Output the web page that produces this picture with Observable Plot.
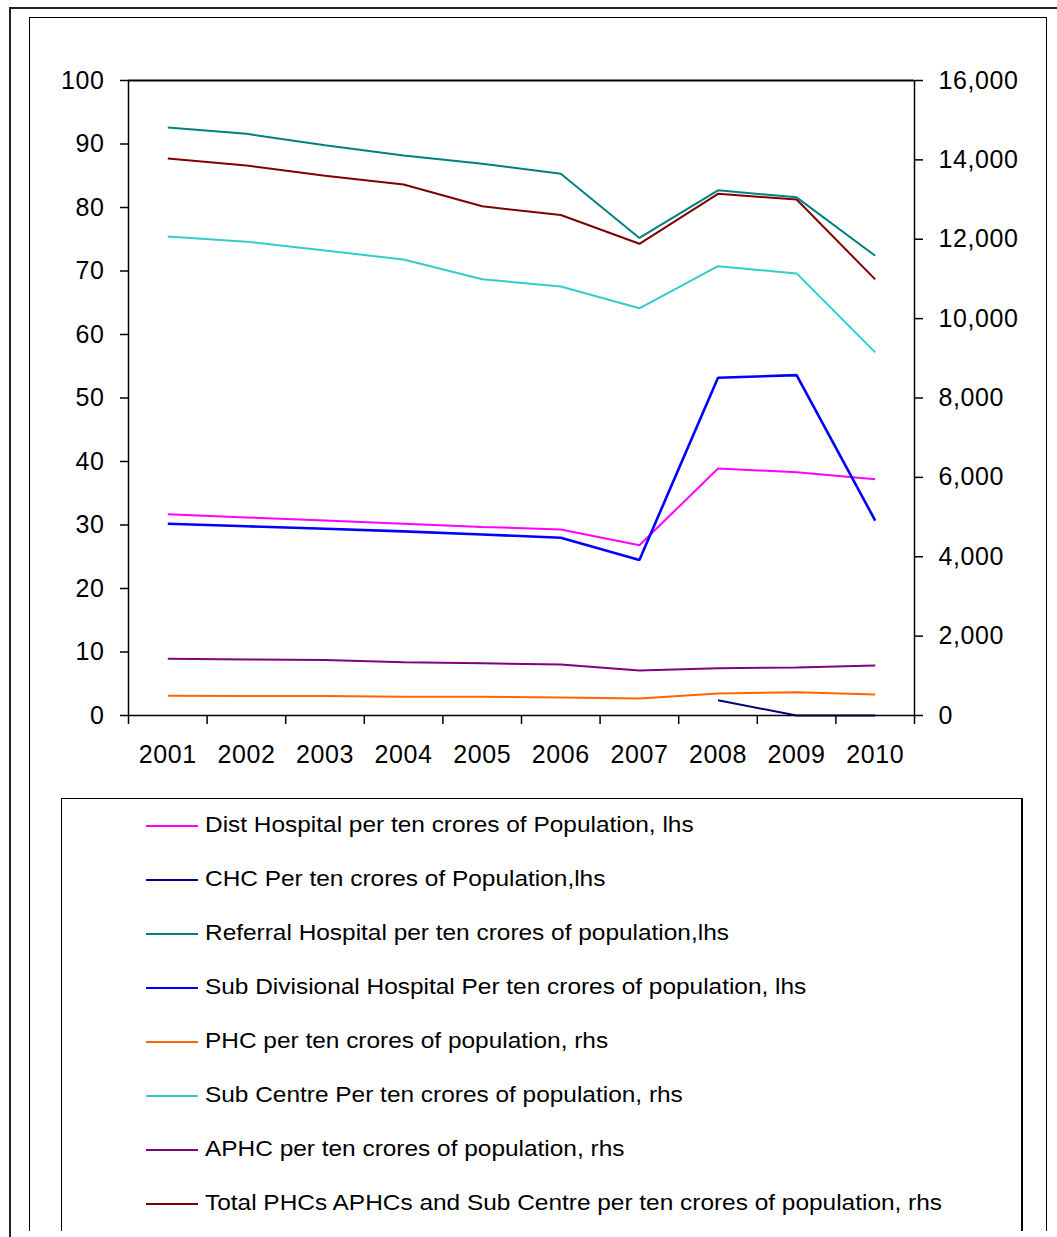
<!DOCTYPE html>
<html>
<head>
<meta charset="utf-8">
<script src="https://cdn.jsdelivr.net/npm/d3@7"></script>
<script src="https://cdn.jsdelivr.net/npm/@observablehq/plot@0.6"></script>
<style>
  html, body { margin: 0; padding: 0; background: #fff; }
  #page { position: relative; width: 1057px; height: 1237px; overflow: hidden; background: #fff; font-family: "Liberation Sans", Arial, sans-serif; }
  .outer { position: absolute; left: 9px; top: 7px; width: 1100px; height: 1300px; border-left: 2px solid #222; border-top: 2px solid #222; box-sizing: border-box; }
  .inner { position: absolute; left: 29px; top: 17px; width: 1018px; height: 1214px; border: 1px solid #000; border-bottom: none; box-sizing: border-box; }
  .legendbox { position: absolute; left: 61px; top: 798px; width: 962px; height: 433px; border: 1px solid #000; border-right: 2px solid #000; border-bottom: none; box-sizing: border-box; }
  .lrow { position: absolute; left: 146px; height: 0; }
  .lrow .sw { position: absolute; left: 0; width: 52px; top: -1px; }
  .lrow .tx { position: absolute; left: 59px; top: -14px; font-size: 22px; line-height: 26px; white-space: nowrap; color: #000; transform: scaleX(1.11); transform-origin: left center; }
  #chart { position: absolute; left: 30px; top: 20px; }
</style>
</head>
<body>
<div id="page">
  <div class="outer"></div>
  <div class="inner"></div>
  <div class="legendbox"></div>
  <div id="chart"></div>
  <div id="legend"></div>
</div>
<script>
// ---- data ----
const years = [2001, 2002, 2003, 2004, 2005, 2006, 2007, 2008, 2009, 2010];
// lhs series (per ten crores of population)
const distHospital = [31.7, 31.2, 30.7, 30.2, 29.7, 29.3, 26.8, 38.9, 38.3, 37.2];
const chc          = [null, null, null, null, null, null, null, 2.4, 0, 0];
const referral     = [92.6, 91.6, 89.8, 88.2, 86.9, 85.3, 75.2, 82.7, 81.6, 72.4];
const subDivisional= [30.2, 29.8, 29.4, 29.0, 28.5, 28.0, 24.5, 53.2, 53.6, 30.7];
// rhs series
const phc          = [496, 494, 490, 471, 470, 455, 428, 554, 587, 529];
const subCentre    = [12070, 11940, 11715, 11490, 10990, 10810, 10260, 11320, 11140, 9150];
const aphc         = [1429, 1410, 1400, 1343, 1315, 1285, 1134, 1192, 1209, 1260];
const totalPHC     = [14035, 13860, 13600, 13380, 12830, 12610, 11885, 13145, 13000, 10990];

const seriesNames = [
  "Dist Hospital per ten crores of Population, lhs",
  "CHC Per ten crores of Population,lhs",
  "Referral Hospital per ten crores of population,lhs",
  "Sub Divisional Hospital Per ten crores of population, lhs",
  "PHC per ten crores of population, rhs",
  "Sub Centre Per ten crores of population, rhs",
  "APHC per ten crores of population, rhs",
  "Total PHCs APHCs and Sub Centre per ten crores of population, rhs"
];
const seriesColors = ["#FF00FF", "#000080", "#008080", "#0000FF", "#FF6600", "#33CCCC", "#800080", "#800000"];
const seriesWidths = [2, 2, 2, 2.6, 2, 2, 2, 2];
const seriesAxis = ["lhs", "lhs", "lhs", "lhs", "rhs", "rhs", "rhs", "rhs"];
const seriesValues = [distHospital, chc, referral, subDivisional, phc, subCentre, aphc, totalPHC];

const lhsTicks = [0, 10, 20, 30, 40, 50, 60, 70, 80, 90, 100];
const rhsTicks = [0, 2000, 4000, 6000, 8000, 10000, 12000, 14000, 16000];
const lhsMax = 100, rhsMax = 16000;
const ratio = rhsMax / lhsMax;

// ---- build table ----
const table = [];
seriesNames.forEach((name, i) => {
  years.forEach((yr, j) => {
    const v = seriesValues[i][j];
    table.push({
      series: name,
      year: yr,
      value: v == null ? null : (seriesAxis[i] === "rhs" ? v / ratio : v)
    });
  });
});

const bounds = [years[0] - 0.5, ...years.map(y => y + 0.5)];

const lineMarks = seriesNames.map((name, i) =>
  Plot.line(table.filter(d => d.series === name), {
    x: "year", y: "value", stroke: seriesColors[i], strokeWidth: seriesWidths[i],
    strokeLinejoin: "miter", strokeLinecap: "butt"
  })
);

const drawOrder = [6, 4, 1, 0, 3, 5, 7, 2];

const chart = Plot.plot({
  width: 1016,
  height: 770,
  marginLeft: 98,
  marginRight: 132,
  marginTop: 60,
  marginBottom: 75,
  style: { fontFamily: "Liberation Sans, Arial, sans-serif", fontSize: "25px", letterSpacing: "0.6px", color: "#000", background: "transparent" },
  x: { type: "linear", domain: [bounds[0], bounds[bounds.length - 1]] },
  y: { domain: [0, lhsMax] },
  marks: [
    Plot.axisX(bounds, { tickSize: 9, tickFormat: () => "", label: null, strokeWidth: 1.5 }),
    Plot.axisX(years, { tickSize: 0, tickPadding: 30, tickFormat: d => String(d), label: null }),
    Plot.axisY(lhsTicks, { anchor: "left", tickSize: 8, tickPadding: 16, label: null, strokeWidth: 1.5 }),
    Plot.axisY(rhsTicks.map(v => v / ratio), { anchor: "right", tickSize: 8, tickPadding: 16, label: null, strokeWidth: 1.5,
      tickFormat: d => d3.format(",")(Math.round(d * ratio)) }),
    ...drawOrder.map(i => lineMarks[i]),
    Plot.ruleY([0], { stroke: "#000", strokeWidth: 1.5 }),
    Plot.ruleY([lhsMax], { stroke: "#000", strokeWidth: 2 }),
    Plot.ruleX([bounds[0]], { stroke: "#000", strokeWidth: 1.5 }),
    Plot.ruleX([bounds[bounds.length - 1]], { stroke: "#000", strokeWidth: 1.5 })
  ]
});
document.getElementById("chart").appendChild(chart);

// ---- legend ----
const legend = d3.select("#legend");
seriesNames.forEach((name, i) => {
  const row = legend.append("div").attr("class", "lrow").style("top", (826 + i * 54) + "px");
  row.append("div").attr("class", "sw")
    .style("border-top", `${seriesWidths[i]}px solid ${seriesColors[i]}`);
  row.append("div").attr("class", "tx").text(name);
});
</script>
</body>
</html>
